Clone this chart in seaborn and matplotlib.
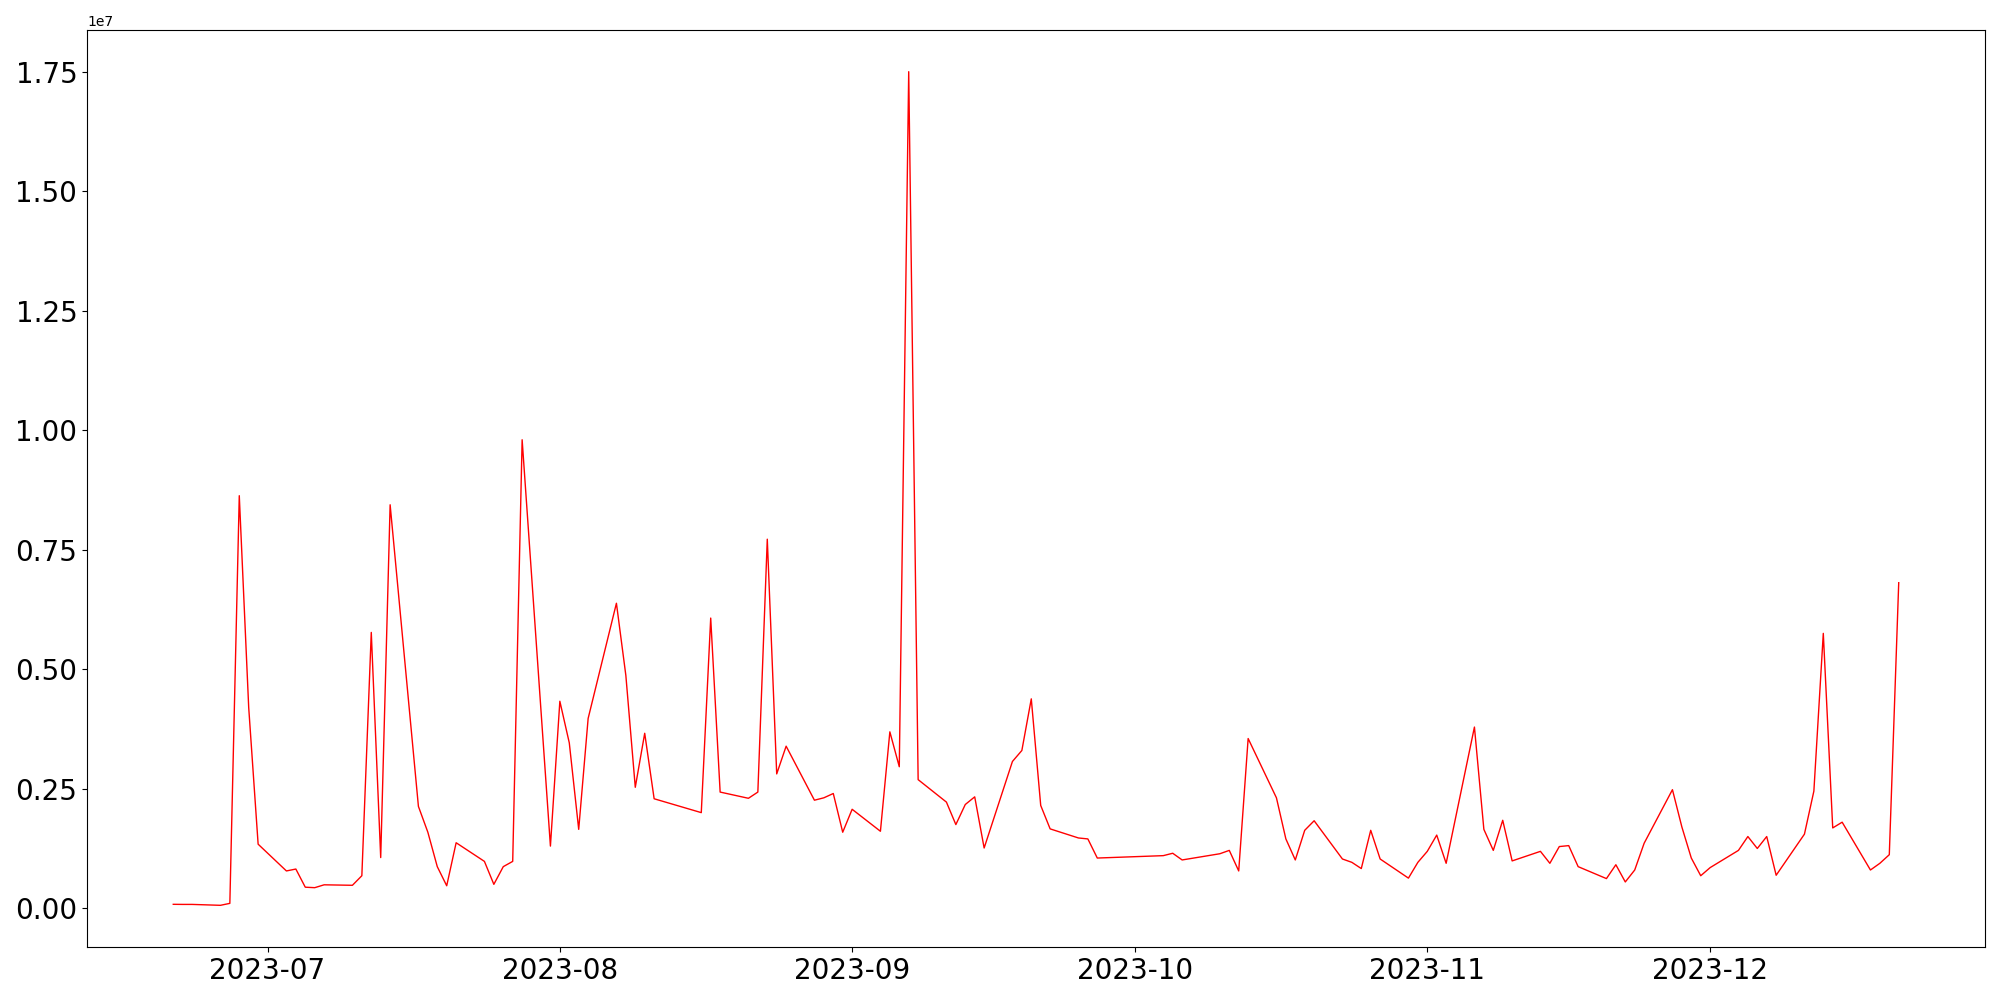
import pandas as pd
import matplotlib
matplotlib.use("Agg")
import matplotlib.pyplot as plt
import seaborn as sns

# trading days (2023) and daily values, in millions
dates = [
    "2023-06-21", "2023-06-22", "2023-06-23", "2023-06-26", "2023-06-27", "2023-06-28",
    "2023-06-29", "2023-06-30", "2023-07-03", "2023-07-04", "2023-07-05", "2023-07-06",
    "2023-07-07", "2023-07-10", "2023-07-11", "2023-07-12", "2023-07-13", "2023-07-14",
    "2023-07-17", "2023-07-18", "2023-07-19", "2023-07-20", "2023-07-21", "2023-07-24",
    "2023-07-25", "2023-07-26", "2023-07-27", "2023-07-28", "2023-07-31", "2023-08-01",
    "2023-08-02", "2023-08-03", "2023-08-04", "2023-08-07", "2023-08-08", "2023-08-09",
    "2023-08-10", "2023-08-11", "2023-08-16", "2023-08-17", "2023-08-18", "2023-08-21",
    "2023-08-22", "2023-08-23", "2023-08-24", "2023-08-25", "2023-08-28", "2023-08-29",
    "2023-08-30", "2023-08-31", "2023-09-01", "2023-09-04", "2023-09-05", "2023-09-06",
    "2023-09-07", "2023-09-08", "2023-09-11", "2023-09-12", "2023-09-13", "2023-09-14",
    "2023-09-15", "2023-09-18", "2023-09-19", "2023-09-20", "2023-09-21", "2023-09-22",
    "2023-09-25", "2023-09-26", "2023-09-27", "2023-10-04", "2023-10-05", "2023-10-06",
    "2023-10-10", "2023-10-11", "2023-10-12", "2023-10-13", "2023-10-16", "2023-10-17",
    "2023-10-18", "2023-10-19", "2023-10-20", "2023-10-23", "2023-10-24", "2023-10-25",
    "2023-10-26", "2023-10-27", "2023-10-30", "2023-10-31", "2023-11-01", "2023-11-02",
    "2023-11-03", "2023-11-06", "2023-11-07", "2023-11-08", "2023-11-09", "2023-11-10",
    "2023-11-13", "2023-11-14", "2023-11-15", "2023-11-16", "2023-11-17", "2023-11-20",
    "2023-11-21", "2023-11-22", "2023-11-23", "2023-11-24", "2023-11-27", "2023-11-28",
    "2023-11-29", "2023-11-30", "2023-12-01", "2023-12-04", "2023-12-05", "2023-12-06",
    "2023-12-07", "2023-12-08", "2023-12-11", "2023-12-12", "2023-12-13", "2023-12-14",
    "2023-12-15", "2023-12-18", "2023-12-19", "2023-12-20", "2023-12-21",
]

values_m = [
    0.082, 0.080, 0.080, 0.061, 0.102, 8.63,
    4.20, 1.34, 0.78, 0.82, 0.44, 0.43,
    0.49, 0.48, 0.68, 5.77, 1.06, 8.44,
    2.13, 1.59, 0.87, 0.47, 1.37, 0.98,
    0.50, 0.87, 0.98, 9.80, 1.30, 4.33,
    3.46, 1.65, 3.97, 6.38, 4.87, 2.53,
    3.66, 2.29, 2.00, 6.07, 2.43, 2.30,
    2.43, 7.72, 2.81, 3.39, 2.26, 2.31,
    2.40, 1.59, 2.07, 1.61, 3.69, 2.96,
    17.50, 2.69, 2.22, 1.75, 2.17, 2.33,
    1.26, 3.07, 3.30, 4.38, 2.15, 1.66,
    1.47, 1.45, 1.05, 1.10, 1.15, 1.01,
    1.14, 1.21, 0.78, 3.55, 2.31, 1.45,
    1.01, 1.63, 1.83, 1.03, 0.96, 0.83,
    1.63, 1.03, 0.63, 0.96, 1.19, 1.53,
    0.94, 3.79, 1.65, 1.21, 1.84, 0.99,
    1.19, 0.94, 1.29, 1.31, 0.87, 0.62,
    0.91, 0.55, 0.80, 1.36, 2.48, 1.70,
    1.05, 0.68, 0.85, 1.21, 1.50, 1.25,
    1.50, 0.69, 1.55, 2.45, 5.75, 1.68,
    1.80, 0.80, 0.94, 1.12, 6.81,
]

df = pd.DataFrame({
    "date": pd.to_datetime(dates),
    "value": [v * 1e6 for v in values_m],
})

fig, ax = plt.subplots(figsize=(20, 10), dpi=100)
sns.lineplot(data=df, x="date", y="value", color="red", linewidth=1.0, ax=ax)

ax.set_xlabel("")
ax.set_ylabel("")
ax.tick_params(axis="both", labelsize=20)

fig.subplots_adjust(left=0.0435, right=0.9925, top=0.97, bottom=0.053)
fig.savefig("out.png", dpi=100)
